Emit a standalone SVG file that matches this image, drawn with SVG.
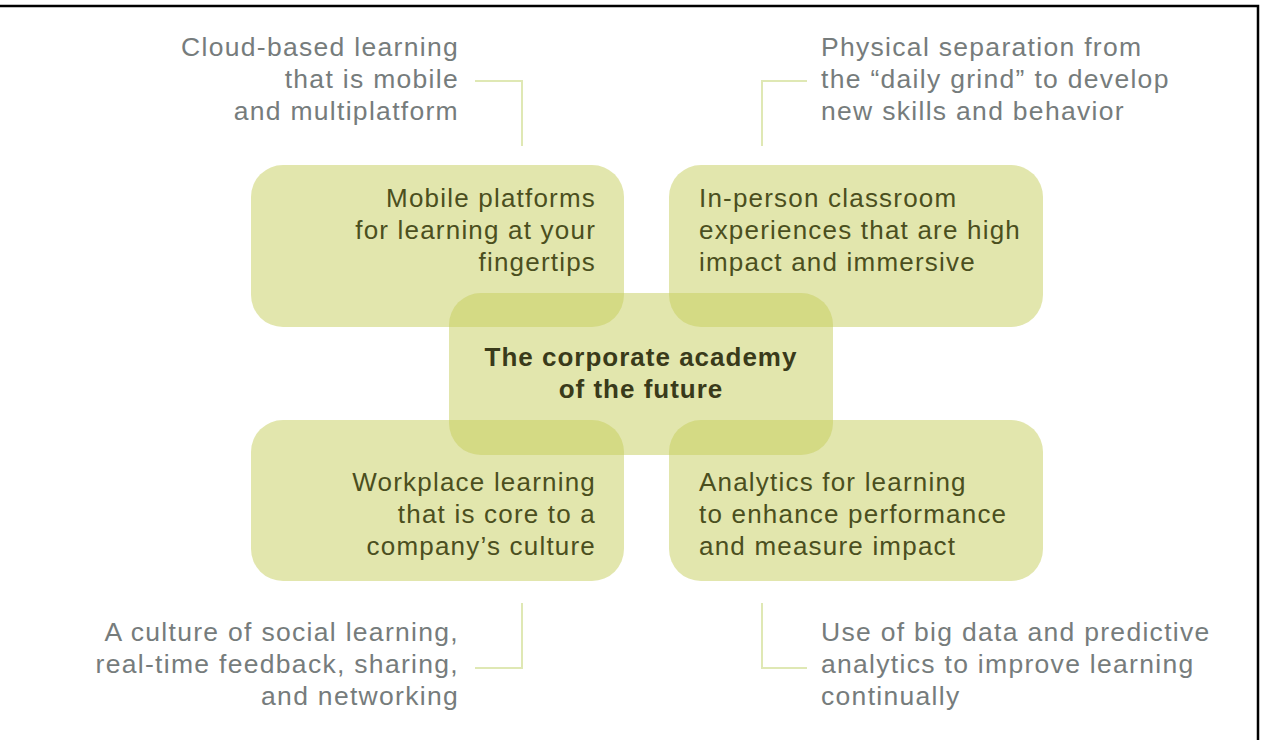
<svg xmlns="http://www.w3.org/2000/svg" width="1262" height="740" viewBox="0 0 1262 740">
<style>
.box{fill:#c6cd5c;fill-opacity:0.5}
.outer{font-family:"Liberation Sans",Arial,sans-serif;font-size:26.5px;fill:#767c7c;letter-spacing:1.3px}
.inner{font-family:"Liberation Sans",Arial,sans-serif;font-size:26px;fill:#4b4f1e;letter-spacing:1.2px}
.center{font-family:"Liberation Sans",Arial,sans-serif;font-size:26px;font-weight:bold;fill:#393a1a;letter-spacing:1px}
.conn{fill:none;stroke:#dfe8b4;stroke-width:2}
</style>
<rect width="1262" height="740" fill="#ffffff"/>
<path d="M0 6 H1258 V740" fill="none" stroke="#000" stroke-width="2.5"/>
<g id="connectors">
<path class="conn" d="M475 81 H522 V146"/>
<path class="conn" d="M807 81 H762 V146"/>
<path class="conn" d="M475 668 H522 V603"/>
<path class="conn" d="M807 668 H762 V603"/>
</g>
<g id="node-mobile">
<rect class="box" x="251" y="165" width="373" height="162" rx="32"/>
<text class="inner" text-anchor="end" x="596" y="207">Mobile platforms</text>
<text class="inner" text-anchor="end" x="596" y="239">for learning at your</text>
<text class="inner" text-anchor="end" x="596" y="271">fingertips</text>
</g>
<g id="node-inperson">
<rect class="box" x="669" y="165" width="374" height="162" rx="32"/>
<text class="inner" x="699" y="207">In-person classroom</text>
<text class="inner" x="699" y="239">experiences that are high</text>
<text class="inner" x="699" y="271">impact and immersive</text>
</g>
<g id="node-workplace">
<rect class="box" x="251" y="420" width="373" height="161" rx="32"/>
<text class="inner" text-anchor="end" x="596" y="491">Workplace learning</text>
<text class="inner" text-anchor="end" x="596" y="523">that is core to a</text>
<text class="inner" text-anchor="end" x="596" y="555">company’s culture</text>
</g>
<g id="node-analytics">
<rect class="box" x="669" y="420" width="374" height="161" rx="32"/>
<text class="inner" x="699" y="491">Analytics for learning</text>
<text class="inner" x="699" y="523">to enhance performance</text>
<text class="inner" x="699" y="555">and measure impact</text>
</g>
<g id="node-center">
<rect class="box" x="449" y="293" width="384" height="162" rx="32"/>
<text class="center" text-anchor="middle" x="641" y="366">The corporate academy</text>
<text class="center" text-anchor="middle" x="641" y="398">of the future</text>
</g>
<g id="note-cloud">
<text class="outer" text-anchor="end" x="459" y="56">Cloud-based learning</text>
<text class="outer" text-anchor="end" x="459" y="88">that is mobile</text>
<text class="outer" text-anchor="end" x="459" y="120">and multiplatform</text>
</g>
<g id="note-physical">
<text class="outer" x="821" y="56">Physical separation from</text>
<text class="outer" x="821" y="88">the “daily grind” to develop</text>
<text class="outer" x="821" y="120">new skills and behavior</text>
</g>
<g id="note-social">
<text class="outer" text-anchor="end" x="459" y="641">A culture of social learning,</text>
<text class="outer" text-anchor="end" x="459" y="673">real-time feedback, sharing,</text>
<text class="outer" text-anchor="end" x="459" y="705">and networking</text>
</g>
<g id="note-bigdata">
<text class="outer" x="821" y="641">Use of big data and predictive</text>
<text class="outer" x="821" y="673">analytics to improve learning</text>
<text class="outer" x="821" y="705">continually</text>
</g>
</svg>
